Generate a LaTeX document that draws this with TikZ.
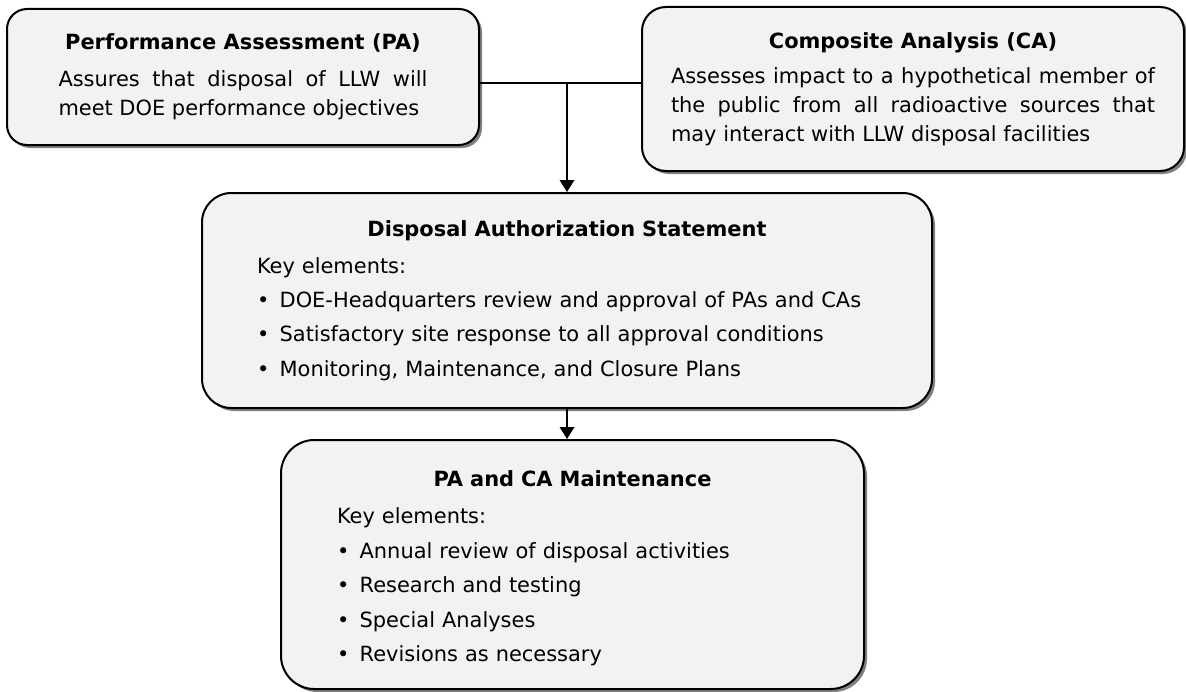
\documentclass[tikz,border=0pt]{standalone}
\usepackage{fontspec}
\setmainfont{DejaVu Sans}
\usepackage{tikz}
\usetikzlibrary{positioning,shadows,arrows.meta}
\definecolor{boxfill}{HTML}{F2F2F2}
\newcommand{\boxtitle}[1]{{\centering\bfseries #1\par}}
\newcommand{\keyitem}[1]{\par\makebox[17pt][l]{\textbullet}#1}

\begin{document}
\begin{tikzpicture}
[x=0.75pt,y=-0.75pt,>={Triangle[length=9pt,width=11pt]},
 stage/.style = {draw, line width=1.5pt, fill=boxfill, rounded corners=#1, inner sep=0pt,
   drop shadow={shadow xshift=2.25pt,shadow yshift=-2.25pt,fill=black!50,opacity=1}},
 link/.style = {line width=1pt},]
\useasboundingbox (0,0) rectangle (1186,692);
\node (PA) at (243,77) [stage=15pt,minimum width=354pt,minimum height=102pt,text width=276.75pt,align=justify,font=\fontsize{15.7pt}{21.75pt}\selectfont]
  {\boxtitle{Performance Assessment (PA)}\vspace{6pt}
   Assures that disposal of LLW will\linebreak meet DOE performance objectives};
\node (CA) at (913,89) [stage=18pt,minimum width=406.5pt,minimum height=123pt,text width=363pt,align=justify,font=\fontsize{15.7pt}{21.6pt}\selectfont]
  {\boxtitle{Composite Analysis (CA)}\vspace{4.9pt}
   Assesses impact to a hypothetical member of\linebreak the public from all radioactive sources that\linebreak may interact with LLW disposal facilities};
\node (DAS) at (567,300.5) [stage=22pt,minimum width=547.5pt,minimum height=161.25pt,text width=465pt,align=left,font=\fontsize{15.7pt}{25.7pt}\selectfont]
  {\boxtitle{Disposal Authorization Statement}\vspace{2pt}
   Key elements:
   \keyitem{DOE-Headquarters review and approval of PAs and CAs}
   \keyitem{Satisfactory site response to all approval conditions}
   \keyitem{Monitoring, Maintenance, and Closure Plans}};
\node (Maint) at (572.5,564.5) [stage=25pt,minimum width=437.25pt,minimum height=186.75pt,text width=353.25pt,align=left,font=\fontsize{15.7pt}{25.9pt}\selectfont]
  {\boxtitle{\rule{0pt}{18pt}PA and CA Maintenance}\vspace{2pt}
   Key elements:
   \keyitem{Annual review of disposal activities}
   \keyitem{Research and testing}
   \keyitem{Special Analyses}
   \keyitem{Revisions as necessary}};
\coordinate (join) at (567,83);
\draw[link] (join -| PA.east) -- (join -| CA.west);
\draw[link,->] (join) -- (join |- DAS.north);
\draw[link,->] (DAS.south) -- (DAS.south |- Maint.north);
\end{tikzpicture}
\end{document}
